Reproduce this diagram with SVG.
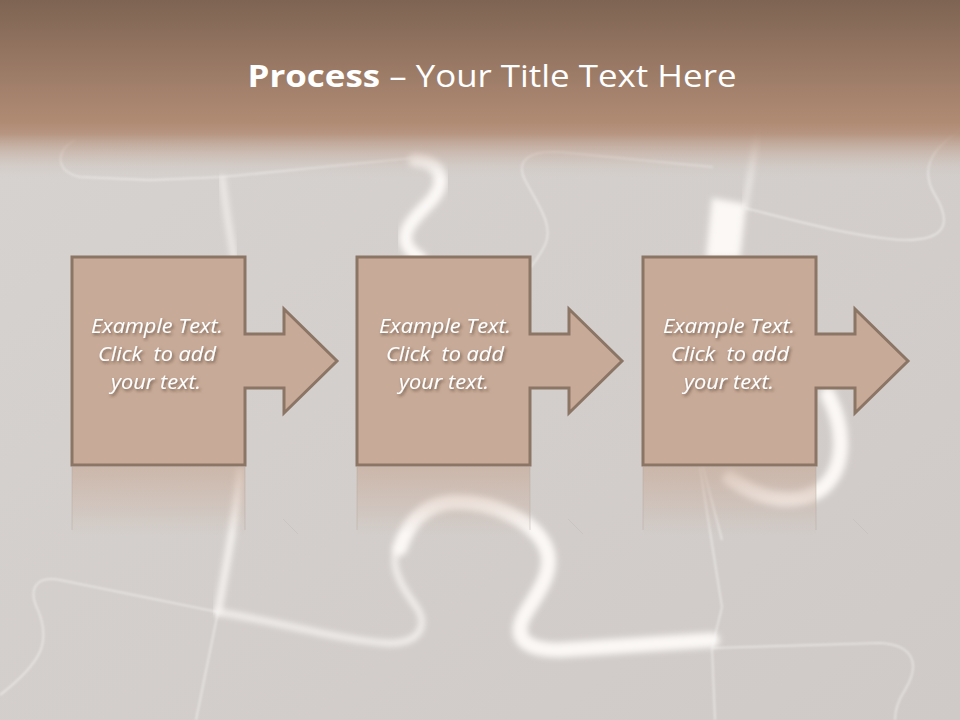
<svg xmlns="http://www.w3.org/2000/svg" width="960" height="720" viewBox="0 0 960 720">
<defs>
<style>
.box{fill:#c8aa98;stroke:#8b7565;stroke-width:3;stroke-linejoin:miter}
.lbl{font-family:"Open Sans","Liberation Sans",sans-serif;font-style:italic;font-size:19.5px;fill:#ffffff;text-anchor:middle;white-space:pre;filter:url(#tshadow)}
.faint{fill:none;stroke:#ffffff;stroke-opacity:0.5;stroke-width:1.6;filter:url(#soft)}
.glow{fill:none;stroke:#fffdfb;stroke-opacity:0.9;stroke-linecap:round;filter:url(#glow)}
.tick{fill:none;stroke:#c2bbb6;stroke-width:1;opacity:0.5}
.refl{fill:url(#reflG)}
.refledge{stroke:#b3a499;stroke-width:1.2;opacity:0.35}
</style>
<linearGradient id="bgG" x1="0" y1="0" x2="1" y2="1">
<stop offset="0" stop-color="#d7d3d0"/>
<stop offset="1" stop-color="#cfcac7"/>
</linearGradient>
<linearGradient id="headG" x1="0" y1="0" x2="0" y2="180" gradientUnits="userSpaceOnUse">
<stop offset="0" stop-color="#7e6453" stop-opacity="1"/>
<stop offset="0.68" stop-color="#b08b74" stop-opacity="1"/>
<stop offset="0.74" stop-color="#b38f79" stop-opacity="0.92"/>
<stop offset="0.85" stop-color="#c0a291" stop-opacity="0.45"/>
<stop offset="1" stop-color="#d3cfcc" stop-opacity="0"/>
</linearGradient>
<linearGradient id="reflG" x1="0" y1="0" x2="0" y2="1">
<stop offset="0" stop-color="#c8aa98" stop-opacity="0.65"/>
<stop offset="1" stop-color="#c8aa98" stop-opacity="0"/>
</linearGradient>
<filter id="soft" x="-10%" y="-10%" width="120%" height="120%"><feGaussianBlur stdDeviation="1"/></filter>
<filter id="glow" x="-20%" y="-20%" width="140%" height="140%"><feGaussianBlur stdDeviation="3.2"/></filter>
<filter id="tshadow" x="-20%" y="-40%" width="140%" height="180%">
<feDropShadow dx="1.5" dy="2" stdDeviation="1.5" flood-color="#3a2a20" flood-opacity="0.6"/>
</filter>
</defs>

<g id="background">
<rect x="0" y="0" width="960" height="720" fill="url(#bgG)"/>
<path class="faint" d="M75,140 C55,150 55,172 80,177 L150,180 L222,177 L412,158"/>
<path class="faint" d="M253,128 L253,168"/>
<path class="glow" stroke-width="4" d="M222,177 C226,210 230,235 234,258"/>
<path class="glow" stroke-width="13" d="M415,160 C442,162 448,182 430,202 C410,222 392,240 420,258"/>
<path class="faint" d="M713,167 L560,152 C530,150 515,160 525,180 C535,200 555,225 545,245 C540,255 535,262 530,268"/>
<path fill="#fffdfb" fill-opacity="0.9" filter="url(#glow)" d="M712,198 L746,204 L740,258 L706,258 Z"/>
<path class="glow" stroke-width="3" d="M758,128 L745,208"/>
<path class="faint" d="M745,208 C800,222 860,238 905,240 C950,240 950,220 935,195 C920,170 930,150 960,130"/>
<path class="glow" stroke-width="6" d="M240,470 C236,520 225,570 218,612"/>
<path class="faint" d="M218,612 L196,720"/>
<path class="faint" d="M218,612 L60,580 C35,575 28,590 38,610 C50,640 45,660 0,695"/>
<path class="glow" stroke-width="5" d="M218,612 C280,622 340,640 385,643 C420,645 430,625 415,605 C400,585 390,565 397,550"/>
<path class="glow" stroke-width="15" d="M400,548 C408,522 425,505 450,502 C495,500 535,522 546,548 C556,572 535,596 524,616 C514,636 522,650 560,650 L712,640"/>
<path class="faint" d="M700,468 L722,607 L712,648 L715,720"/>
<path class="faint" d="M713,648 L880,643 C915,645 920,665 905,690 C895,705 895,715 895,720"/>
<path class="glow" stroke-width="15" d="M828,395 C846,430 846,470 820,490 C795,506 760,500 730,478"/>
<path class="faint" d="M703,467 L722,540"/>
</g>

<g id="header">
<rect x="0" y="0" width="960" height="180" fill="url(#headG)"/>
<text x="492" y="87" text-anchor="middle" font-family="'Open Sans','Liberation Sans',sans-serif" font-size="31" fill="#ffffff" textLength="489" lengthAdjust="spacingAndGlyphs"><tspan font-weight="bold">Process</tspan> – Your Title Text Here</text>
</g>

<g id="reflections">
<rect class="refl" x="72" y="467" width="173" height="68"/>
<rect class="refl" x="357" y="467" width="173" height="68"/>
<rect class="refl" x="643" y="467" width="173" height="68"/>
<path class="refledge" d="M72,467 V530 M245,467 V530 M357,467 V530 M530,467 V530 M643,467 V530 M816,467 V530"/>
<path class="tick" d="M283,519 L298,534 M568,519 L583,534 M853,519 L868,534"/>
</g>

<g id="connectors"></g>

<g id="step1">
<path class="box" d="M72,257 H245 V334 H284 V309 L337,361 L284,413 V388 H245 V465 H72 Z"/>
<text class="lbl" x="157" y="333" textLength="132" lengthAdjust="spacingAndGlyphs">Example Text.</text>
<text class="lbl" x="157" y="361" textLength="118" lengthAdjust="spacingAndGlyphs">Click  to add</text>
<text class="lbl" x="156" y="389" textLength="90" lengthAdjust="spacingAndGlyphs">your text.</text>
</g>

<g id="step2">
<path class="box" d="M357,257 H530 V334 H569 V309 L622,361 L569,413 V388 H530 V465 H357 Z"/>
<text class="lbl" x="445" y="333" textLength="132" lengthAdjust="spacingAndGlyphs">Example Text.</text>
<text class="lbl" x="445" y="361" textLength="118" lengthAdjust="spacingAndGlyphs">Click  to add</text>
<text class="lbl" x="444" y="389" textLength="90" lengthAdjust="spacingAndGlyphs">your text.</text>
</g>

<g id="step3">
<path class="box" d="M643,257 H816 V334 H855 V309 L908,361 L855,413 V388 H816 V465 H643 Z"/>
<text class="lbl" x="729" y="333" textLength="132" lengthAdjust="spacingAndGlyphs">Example Text.</text>
<text class="lbl" x="730" y="361" textLength="118" lengthAdjust="spacingAndGlyphs">Click  to add</text>
<text class="lbl" x="729" y="389" textLength="90" lengthAdjust="spacingAndGlyphs">your text.</text>
</g>
</svg>
